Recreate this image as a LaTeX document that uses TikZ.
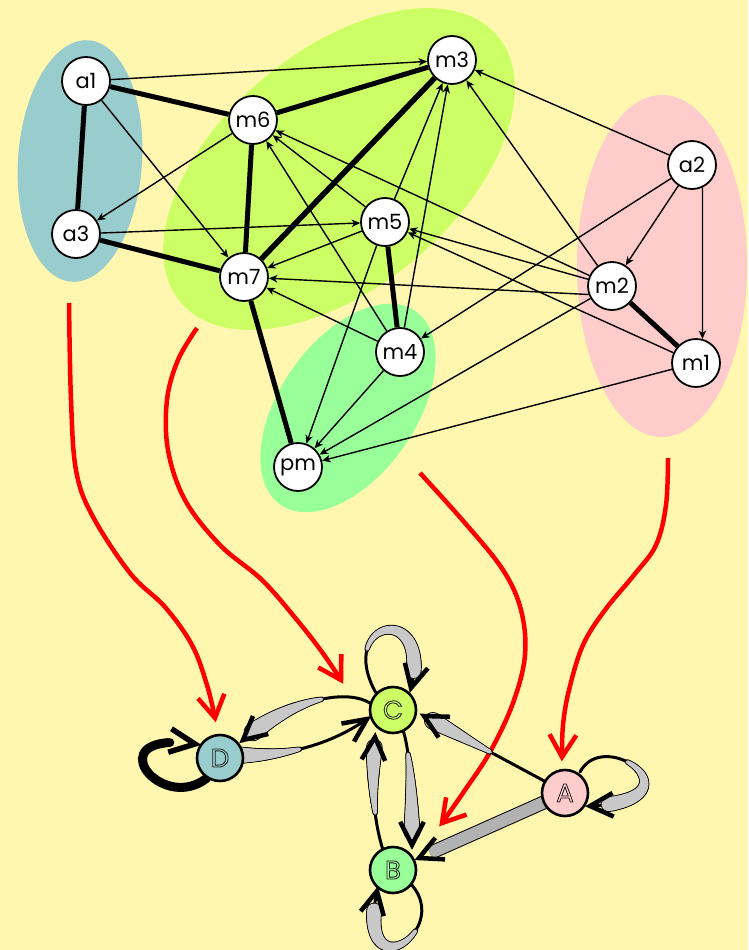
\documentclass[tikz,border=0pt]{standalone}
\usepackage{fontspec}
\setmainfont{Poppins}
\usetikzlibrary{arrows.meta,calc}
\pgfdeclarelayer{back}
\pgfdeclarelayer{edges}
\pgfsetlayers{back,edges,main}
\definecolor{bgyellow}{RGB}{255,247,175}
\definecolor{blobteal}{RGB}{153,204,204}
\definecolor{blobgy}{RGB}{204,255,102}
\definecolor{blobpink}{RGB}{255,204,204}
\definecolor{blobgreen}{RGB}{153,255,153}
\definecolor{wedgegrey}{RGB}{200,200,200}
\definecolor{bandgrey}{RGB}{178,178,178}
\definecolor{labelgrey}{RGB}{30,30,30}

\newcommand{\outlinetext}[1]{\special{pdf:literal direct 1 Tr 0.8 w}#1\special{pdf:literal direct 0 Tr}}

% tapered edge: #1-#4 bezier points, #5 grey start time, #6 grey end time, #7 width at start, #8 width at end
\newcommand{\taperedge}[8]{%
  \begin{pgfscope}
  \pgfsetroundcap
  \pgfsetcolor{black}\pgfsetlinewidth{3pt}%
  \ifdim #5pt>0pt
    \pgfpathcurvebetweentime{0}{#5}{\pgfpointanchor{#1}{center}}{\pgfpointanchor{#2}{center}}{\pgfpointanchor{#3}{center}}{\pgfpointanchor{#4}{center}}\pgfusepath{stroke}%
  \fi
  \ifdim #6pt<0.999pt
    \pgfpathcurvebetweentime{#6}{1}{\pgfpointanchor{#1}{center}}{\pgfpointanchor{#2}{center}}{\pgfpointanchor{#3}{center}}{\pgfpointanchor{#4}{center}}\pgfusepath{stroke}%
  \fi
  \foreach \k in {1,...,30}{%
    \pgfmathsetmacro\ta{#5+(#6-#5)*(\k-1)/30}%
    \pgfmathsetmacro\tb{#5+(#6-#5)*\k/30}%
    \pgfmathsetmacro\ww{#7+(#8-#7)*(\k-0.5)/30+1.8}%
    \pgfsetlinewidth{\ww pt}%
    \pgfpathcurvebetweentime{\ta}{\tb}{\pgfpointanchor{#1}{center}}{\pgfpointanchor{#2}{center}}{\pgfpointanchor{#3}{center}}{\pgfpointanchor{#4}{center}}\pgfusepath{stroke}%
  }%
  \pgfsetcolor{wedgegrey}%
  \foreach \k in {1,...,30}{%
    \pgfmathsetmacro\ta{#5+(#6-#5)*(\k-1)/30}%
    \pgfmathsetmacro\tb{#5+(#6-#5)*\k/30}%
    \pgfmathsetmacro\ww{#7+(#8-#7)*(\k-0.5)/30}%
    \pgfsetlinewidth{\ww pt}%
    \pgfpathcurvebetweentime{\ta}{\tb}{\pgfpointanchor{#1}{center}}{\pgfpointanchor{#2}{center}}{\pgfpointanchor{#3}{center}}{\pgfpointanchor{#4}{center}}\pgfusepath{stroke}%
  }%
  \end{pgfscope}%
}

% V arrow head: #1 tip, #2 point behind, #3 arm length, #4 line width, #5 colour, #6 half angle
\newcommand{\vhead}[6]{%
  \draw[#5, line width=#4, line cap=butt, line join=miter]
    ($(#1)!#3!#6:(#2)$) -- (#1) -- ($(#1)!#3!-#6:(#2)$);%
}

\begin{document}
\begin{tikzpicture}[x=1pt,y=-1pt,
  vtx/.style={circle,draw=black,line width=1.8pt,fill=white,minimum size=48pt,inner sep=0pt,font=\fontsize{21}{21}\selectfont},
  cls/.style={circle,draw=black,line width=2.6pt,minimum size=46pt,inner sep=0pt,font=\fontsize{26}{26}\selectfont,text=labelgrey},
  arr/.style={line width=1.4pt,-{Stealth[length=8.5pt,width=7.5pt,inset=2.5pt]}},
  heavy/.style={line width=5pt},
  redarrow/.style={red,line width=4.5pt}]

\useasboundingbox (0,0) rectangle (748,950);

\begin{pgfonlayer}{back}
\fill[bgyellow] (0,0) rectangle (748,950);
\fill[blobteal, rotate around={-4:(80,161)}] (80,161) ellipse [x radius=62, y radius=121];
\fill[blobgy, rotate around={40:(339,169)}] (339,169) ellipse [x radius=207, y radius=118];
\fill[blobpink] (662,266) ellipse [x radius=85, y radius=171];
\fill[blobgreen, rotate around={55:(348,408)}] (348,408) ellipse [x radius=118, y radius=68];

% red arrows
\coordinate (r1tip) at (215,718);
\coordinate (r1back) at (211,695);
\draw[redarrow] plot[smooth, tension=0.6] coordinates {(69,303) (71,400) (76,470) (92,515) (130,573) (165,607) (192,645) (207,685) (r1tip)};
\vhead{r1tip}{r1back}{26pt}{4.5pt}{red}{31}
\coordinate (r2tip) at (341,680);
\coordinate (r2back) at (327,656);
\draw[redarrow] plot[smooth, tension=0.6] coordinates {(197,328) (178,360) (167,400) (168,450) (185,500) (220,545) (262,580) (297,620) (322,652) (r2tip)};
\vhead{r2tip}{r2back}{26pt}{4.5pt}{red}{31}
\coordinate (r3tip) at (442,823);
\coordinate (r3back) at (458,804);
\draw[redarrow] plot[smooth, tension=0.6] coordinates {(420,473) (465,523) (503,570) (521,610) (525,655) (513,703) (490,752) (465,790) (r3tip)};
\vhead{r3tip}{r3back}{26pt}{4.5pt}{red}{31}
\coordinate (r4tip) at (562,757);
\coordinate (r4back) at (563,733);
\draw[redarrow] plot[smooth, tension=0.6] coordinates {(668,458) (666,505) (656,545) (634,575) (605,610) (583,645) (569,690) (563,725) (r4tip)};
\vhead{r4tip}{r4back}{26pt}{4.5pt}{red}{31}
\end{pgfonlayer}

% top graph nodes
\node[vtx] (a1) at (86,81) {a1};
\node[vtx] (a3) at (76,234) {a3};
\node[vtx] (m6) at (253,120) {m6};
\node[vtx] (m3) at (452,60) {m3};
\node[vtx] (m5) at (385,222) {m5};
\node[vtx] (m7) at (244,277) {m7};
\node[vtx] (m4) at (400,352) {m4};
\node[vtx] (pm) at (298,467) {pm};
\node[vtx] (a2) at (692,165) {a2};
\node[vtx] (m2) at (612,286) {m2};
\node[vtx] (m1) at (696,363) {m1};

% heavy undirected edges
\begin{pgfonlayer}{edges}
\draw[heavy] (a1) -- (m6);
\draw[heavy] (a1) -- (a3);
\draw[heavy] (a3) -- (m7);
\draw[heavy] (m6) -- (m7);
\draw[heavy] (m6) -- (m3);
\draw[line width=5.5pt] (m7) -- (m3);
\draw[heavy] (m7) -- (pm);
\draw[heavy] (m5) -- (m4);
\draw[heavy] (m2) -- (m1);
\end{pgfonlayer}

% thin directed edges
\draw[arr] (a1) -- (m3);
\draw[arr] (a1) -- (m7);
\draw[arr] (m6) -- (a3);
\draw[arr] (a3) -- (m5);
\draw[arr] (m5) -- (m6);
\draw[arr] (m5) -- (m7);
\draw[arr] (m5) -- (m3);
\draw[arr] (m5) -- (pm);
\draw[arr] (m4) -- (m6);
\draw[arr] (m4) -- (m7);
\draw[arr] (m4) -- (m3);
\draw[arr] (m4) -- (pm);
\draw[arr] (m2) -- (m6);
\draw[arr] (m2) -- (m3);
\draw[arr] (m2) -- (m5);
\draw[arr] (m2.200) -- (m7);
\draw[arr] (m2) -- (pm);
\draw[arr] (m1) -- (m5);
\draw[arr] (m1) -- (pm);
\draw[arr] (a2) -- (m3);
\draw[arr] (a2) -- (m2);
\draw[arr] (a2.-65) -- (m1.75);
\draw[arr] (a2) -- (m4);

% bottom graph nodes
\node[cls, fill=blobgy] (C) at (393,710) {\outlinetext{C}};
\node[cls, fill=blobteal] (D) at (220,758) {\outlinetext{D}};
\node[cls, fill=blobgreen] (B) at (393,870) {\outlinetext{B}};
\node[cls, fill=blobpink] (A) at (565,793) {\outlinetext{A}};

\begin{pgfonlayer}{edges}
% C -> D
\coordinate (cd0) at (370,703); \coordinate (cd1) at (345,688);
\coordinate (cd2) at (290,700); \coordinate (cd3) at (243,740);
\taperedge{cd0}{cd1}{cd2}{cd3}{0.45}{0.93}{3.5}{17}
\vhead{cd3}{cd2}{26pt}{4.5pt}{black}{27}
% D -> C
\coordinate (dc0) at (236,755); \coordinate (dc1) at (285,757);
\coordinate (dc2) at (330,745); \coordinate (dc3) at (367,719);
\taperedge{dc0}{dc1}{dc2}{dc3}{0}{0.45}{16}{3.5}
\vhead{dc3}{dc2}{26pt}{4.5pt}{black}{25}
% C -> B
\coordinate (cb0) at (403,730); \coordinate (cb1) at (410,752);
\coordinate (cb2) at (412,790); \coordinate (cb3) at (412,845);
\taperedge{cb0}{cb1}{cb2}{cb3}{0.3}{0.92}{3.5}{15}
\vhead{cb3}{cb2}{26pt}{4.5pt}{black}{27}
% B -> C
\coordinate (bc0) at (383,850); \coordinate (bc1) at (372,815);
\coordinate (bc2) at (372,780); \coordinate (bc3) at (375,737);
\taperedge{bc0}{bc1}{bc2}{bc3}{0.35}{0.92}{3.5}{15}
\vhead{bc3}{bc2}{26pt}{4.5pt}{black}{27}
% A -> C
\coordinate (ac0) at (548,783); \coordinate (ac1) at (507,761);
\coordinate (ac2) at (466,739); \coordinate (ac3) at (424,716);
\taperedge{ac0}{ac1}{ac2}{ac3}{0.47}{0.93}{3.5}{16}
\vhead{ac3}{ac2}{26pt}{4.5pt}{black}{27}
% A -> B
\coordinate (abtip) at (419,858);
\draw[line width=14pt, black] (A.center) -- ($(abtip)!12pt!(A.center)$);
\draw[line width=12pt, bandgrey] (A.center) -- ($(abtip)!12pt!(A.center)$);
\vhead{abtip}{A}{26pt}{4.5pt}{black}{27}
% A loop
\coordinate (aa0) at (580,772); \coordinate (aa1) at (605,725);
\coordinate (aa2) at (705,800); \coordinate (aa3) at (590,806);
\taperedge{aa0}{aa1}{aa2}{aa3}{0.4}{0.94}{3.5}{14}
\vhead{aa3}{aa2}{26pt}{4.5pt}{black}{27}
% C loop
\coordinate (cc0) at (376,693); \coordinate (cc1) at (335,620);
\coordinate (cc2) at (432,600); \coordinate (cc3) at (411,688);
\taperedge{cc0}{cc1}{cc2}{cc3}{0.25}{0.93}{3.5}{14}
\vhead{cc3}{cc2}{26pt}{4.5pt}{black}{27}
% B loop
\coordinate (bb0) at (410,883); \coordinate (bb1) at (455,930);
\coordinate (bb2) at (355,995); \coordinate (bb3) at (377,891);
\taperedge{bb0}{bb1}{bb2}{bb3}{0.35}{0.93}{3.5}{14}
\vhead{bb3}{bb2}{26pt}{4.5pt}{black}{27}
% D loop
\coordinate (dd0) at (207,778); \coordinate (dd1) at (160,815);
\coordinate (dd2) at (95,730); \coordinate (dd3) at (195,744);
\begin{scope}
\pgfsetroundcap\pgfsetlinewidth{9pt}\pgfsetcolor{black}
\pgfpathcurvebetweentime{0}{0.9}{\pgfpointanchor{dd0}{center}}{\pgfpointanchor{dd1}{center}}{\pgfpointanchor{dd2}{center}}{\pgfpointanchor{dd3}{center}}\pgfusepath{stroke}
\end{scope}
\vhead{dd3}{dd2}{28pt}{5.5pt}{black}{25}
\end{pgfonlayer}
\end{tikzpicture}
\end{document}
